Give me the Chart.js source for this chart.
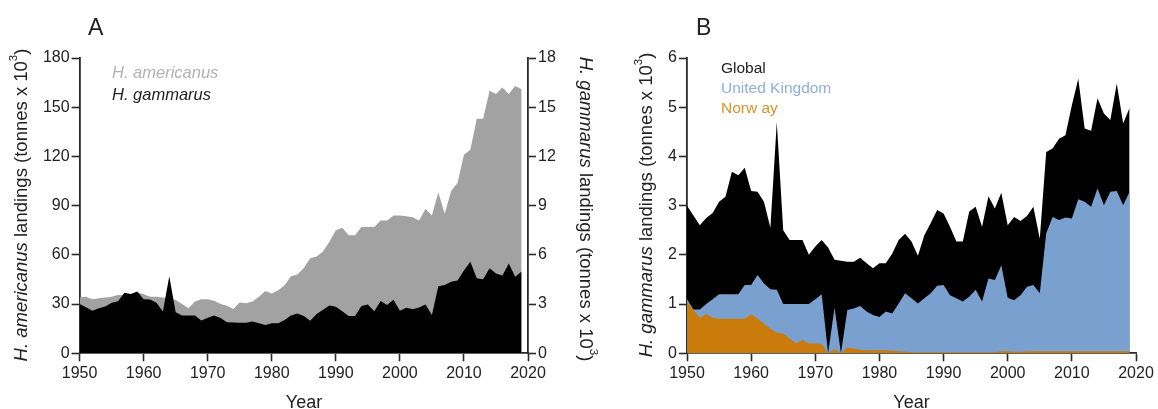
<!DOCTYPE html>
<html>
<head>
<meta charset="utf-8">
<script src="https://cdn.jsdelivr.net/npm/chart.js@4.4.1/dist/chart.umd.min.js"></script>
<style>
  html, body { margin: 0; padding: 0; background: #fff; }
  #wrap { position: relative; width: 1158px; height: 409px; overflow: hidden; background: #fff; }
  canvas { position: absolute; top: 0; }
  #cA { left: 0; }
  #cB { left: 600px; }
</style>
</head>
<body>
<div id="wrap">
  <canvas id="cA" width="620" height="409"></canvas>
  <canvas id="cB" width="558" height="409"></canvas>
</div>
<script>
// ---- Data: annual lobster landings (thousand tonnes) ----
const years = [
  1950,1951,1952,1953,1954,1955,1956,1957,1958,1959,
  1960,1961,1962,1963,1964,1965,1966,1967,1968,1969,
  1970,1971,1972,1973,1974,1975,1976,1977,1978,1979,
  1980,1981,1982,1983,1984,1985,1986,1987,1988,1989,
  1990,1991,1992,1993,1994,1995,1996,1997,1998,1999,
  2000,2001,2002,2003,2004,2005,2006,2007,2008,2009,
  2010,2011,2012,2013,2014,2015,2016,2017,2018,2019
];

// Homarus americanus, all regions
const americanus = [
  34,34.5,33,33.5,34,34.5,35.5,35.5,35.5,37,
  36,34.5,34.5,34,33.5,32.5,30,27.5,31.5,33,
  33,32,30,29,27,31,30.5,31.5,34.5,38,
  36.5,38.5,41.5,47,48,52,58,59,62,68,
  75,76.5,72,72,77,77,77,81,81,84,
  84,83.5,83,81,88,84,98,85,99,104,
  121,124,143,143,160,158,162,158,163,161
];

// Homarus gammarus, global total
const gammarusGlobal = [
  3.0,2.8,2.6,2.75,2.85,3.08,3.18,3.69,3.62,3.77,
  3.3,3.28,3.08,2.55,4.7,2.5,2.3,2.3,2.3,2.0,
  2.17,2.3,2.15,1.9,1.88,1.86,1.86,1.94,1.83,1.73,
  1.83,1.83,2.03,2.3,2.43,2.27,1.98,2.4,2.65,2.91,
  2.84,2.57,2.27,2.27,2.88,2.98,2.57,3.19,2.94,3.26,
  2.6,2.77,2.69,2.79,2.98,2.33,4.09,4.16,4.36,4.43,
  5.04,5.58,4.57,4.52,5.18,4.87,4.74,5.48,4.67,4.99
];

// Homarus gammarus, United Kingdom
const gammarusUK = [
  1.1,0.89,0.89,1.0,1.1,1.2,1.2,1.2,1.2,1.39,
  1.39,1.59,1.42,1.3,1.29,1.0,1.0,1.0,1.0,1.0,
  1.1,1.2,0,0.93,0,0.88,0.91,0.96,0.85,0.78,
  0.74,0.85,0.81,1.01,1.22,1.12,1.01,1.12,1.22,1.37,
  1.39,1.18,1.12,1.05,1.15,1.29,1.05,1.52,1.49,1.79,
  1.13,1.08,1.18,1.35,1.39,1.22,2.44,2.77,2.71,2.76,
  2.74,3.13,3.08,2.98,3.35,3.01,3.28,3.30,3.01,3.28
];

// Homarus gammarus, Norway
const gammarusNorway = [
  1.05,0.88,0.72,0.8,0.72,0.7,0.7,0.7,0.7,0.7,
  0.8,0.7,0.6,0.5,0.42,0.4,0.3,0.2,0.27,0.2,
  0.2,0.19,0,0.08,0,0.12,0.1,0.07,0.06,0.06,
  0.06,0.06,0.05,0.04,0.03,0.02,0.02,0.02,0.02,0.02,
  0.02,0.02,0.02,0.02,0.02,0.02,0.02,0.02,0.02,0.04,
  0.04,0.03,0.03,0.04,0.04,0.04,0.04,0.04,0.04,0.04,
  0.04,0.04,0.04,0.04,0.04,0.04,0.04,0.04,0.04,0.04
];

// Axis tick labels
const yearTicks = [1950,1960,1970,1980,1990,2000,2010,2020];
const americanusTicks = [0,30,60,90,120,150,180];
const gammarusTicksA = [0,3,6,9,12,15,18];
const gammarusTicksB = [0,1,2,3,4,5,6];

// ---- Styling ----
const FONT = "'Liberation Sans', Arial, Helvetica, sans-serif";
const AXIS = '#2a2a2a';
const TXT = '#222';

const pts = arr => arr.map((v, i) => ({ x: years[i], y: v }));

function areaSet(label, data, color, axis) {
  return {
    label, data: pts(data), yAxisID: axis,
    fill: 'origin', backgroundColor: color,
    borderColor: color, borderWidth: 0,
    pointRadius: 0, pointHoverRadius: 0, tension: 0
  };
}

function fixedTicks(list) {
  return scale => { scale.ticks = list.map(v => ({ value: v })); };
}

function xScale() {
  return {
    type: 'linear', position: 'bottom', min: 1950, max: 2020,
    afterBuildTicks: fixedTicks(yearTicks),
    afterFit: s => { s.height = 55.7; },
    grid: { display: true, drawOnChartArea: false, drawTicks: true, tickLength: 8, tickWidth: 1.6, tickColor: AXIS },
    border: { display: true, color: AXIS, width: 1.8 },
    ticks: { color: TXT, font: { family: FONT, size: 16 }, padding: 3, maxRotation: 0, autoSkip: false, callback: v => String(v) }
  };
}

function yScale(pos, max, list, width) {
  return {
    type: 'linear', position: pos, min: 0, max,
    afterBuildTicks: fixedTicks(list),
    afterFit: s => { s.width = width; },
    grid: { display: true, drawOnChartArea: false, drawTicks: true, tickLength: 8, tickWidth: 1.6, tickColor: AXIS },
    border: { display: true, color: AXIS, width: 1.8 },
    ticks: { color: TXT, font: { family: FONT, size: 16 }, padding: 2, autoSkip: false, callback: v => String(v) }
  };
}

// Draws a run of text pieces (italic / superscript) centred at (x, y), rotated by angle
function drawRich(ctx, parts, x, y, angle, size) {
  ctx.save();
  ctx.translate(x, y);
  ctx.rotate(angle);
  ctx.textBaseline = 'middle';
  ctx.textAlign = 'left';
  const fontOf = p => (p.italic ? 'italic ' : '') + (p.sup ? size * 0.62 : size) + 'px ' + FONT;
  let total = 0;
  parts.forEach(p => { ctx.font = fontOf(p); p.w = ctx.measureText(p.t).width; total += p.w; });
  let cx = -total / 2;
  parts.forEach(p => {
    ctx.font = fontOf(p);
    ctx.fillStyle = p.color || TXT;
    ctx.fillText(p.t, cx, p.sup ? -size * 0.42 : 0);
    cx += p.w;
  });
  ctx.restore();
}

function drawLeft(ctx, text, x, y, size, color, italic) {
  ctx.save();
  ctx.font = (italic ? 'italic ' : '') + size + 'px ' + FONT;
  ctx.fillStyle = color;
  ctx.textBaseline = 'middle';
  ctx.textAlign = 'left';
  ctx.fillText(text, x, y);
  ctx.restore();
}

const titleParts = species => [
  { t: species, italic: true },
  { t: ' landings (tonnes x 10' },
  { t: '3', sup: true },
  { t: ')' }
];

const annotA = {
  id: 'annotA',
  afterDraw(chart) {
    const ctx = chart.ctx;
    drawLeft(ctx, 'A', 88, 29, 23, TXT, false);
    drawLeft(ctx, 'H. americanus', 112, 73.5, 16.5, '#b2b2b2', true);
    drawLeft(ctx, 'H. gammarus', 112, 95.5, 16.5, TXT, true);
    drawRich(ctx, titleParts('H. americanus'), 22, 205, -Math.PI / 2, 18.5);
    drawRich(ctx, titleParts('H. gammarus'), 585, 209, Math.PI / 2, 18.5);
    drawRich(ctx, [{ t: 'Year' }], 304, 403, 0, 18);
  }
};

const annotB = {
  id: 'annotB',
  afterDraw(chart) {
    const ctx = chart.ctx;
    drawLeft(ctx, 'B', 96, 29, 23, TXT, false);
    drawLeft(ctx, 'Global', 121, 69, 15.5, TXT, false);
    drawLeft(ctx, 'United Kingdom', 121, 88.5, 15.5, '#8eafd8', false);
    drawLeft(ctx, 'Norw ay', 121, 108.5, 15.5, '#d0952f', false);
    drawRich(ctx, titleParts('H. gammarus'), 47, 205, -Math.PI / 2, 18.5);
    drawRich(ctx, [{ t: 'Year' }], 311.5, 403, 0, 18);
  }
};

const common = {
  responsive: false,
  animation: false,
  devicePixelRatio: 1,
  events: [],
  plugins: { legend: { display: false }, tooltip: { enabled: false } }
};

// Panel A: H. americanus (left axis) with H. gammarus (right axis) overlaid
new Chart(document.getElementById('cA'), {
  type: 'line',
  data: {
    datasets: [
      areaSet('H. gammarus', gammarusGlobal, '#000000', 'yR'),
      areaSet('H. americanus', americanus, '#a2a2a2', 'y')
    ]
  },
  options: Object.assign({}, common, {
    layout: { padding: { top: 58, left: 0, right: 0, bottom: 0 } },
    scales: {
      x: xScale(),
      y: yScale('left', 180, americanusTicks, 79.6),
      yR: yScale('right', 18, gammarusTicksA, 92)
    }
  }),
  plugins: [annotA]
});

// Panel B: H. gammarus global, UK and Norway
new Chart(document.getElementById('cB'), {
  type: 'line',
  data: {
    datasets: [
      areaSet('Norway', gammarusNorway, '#c97c0b', 'y'),
      areaSet('United Kingdom', gammarusUK, '#7aa0cf', 'y'),
      areaSet('Global', gammarusGlobal, '#000000', 'y')
    ]
  },
  options: Object.assign({}, common, {
    layout: { padding: { top: 58, left: 0, right: 22, bottom: 0 } },
    scales: {
      x: xScale(),
      y: yScale('left', 6, gammarusTicksB, 87)
    }
  }),
  plugins: [annotB]
});
</script>
</body>
</html>
